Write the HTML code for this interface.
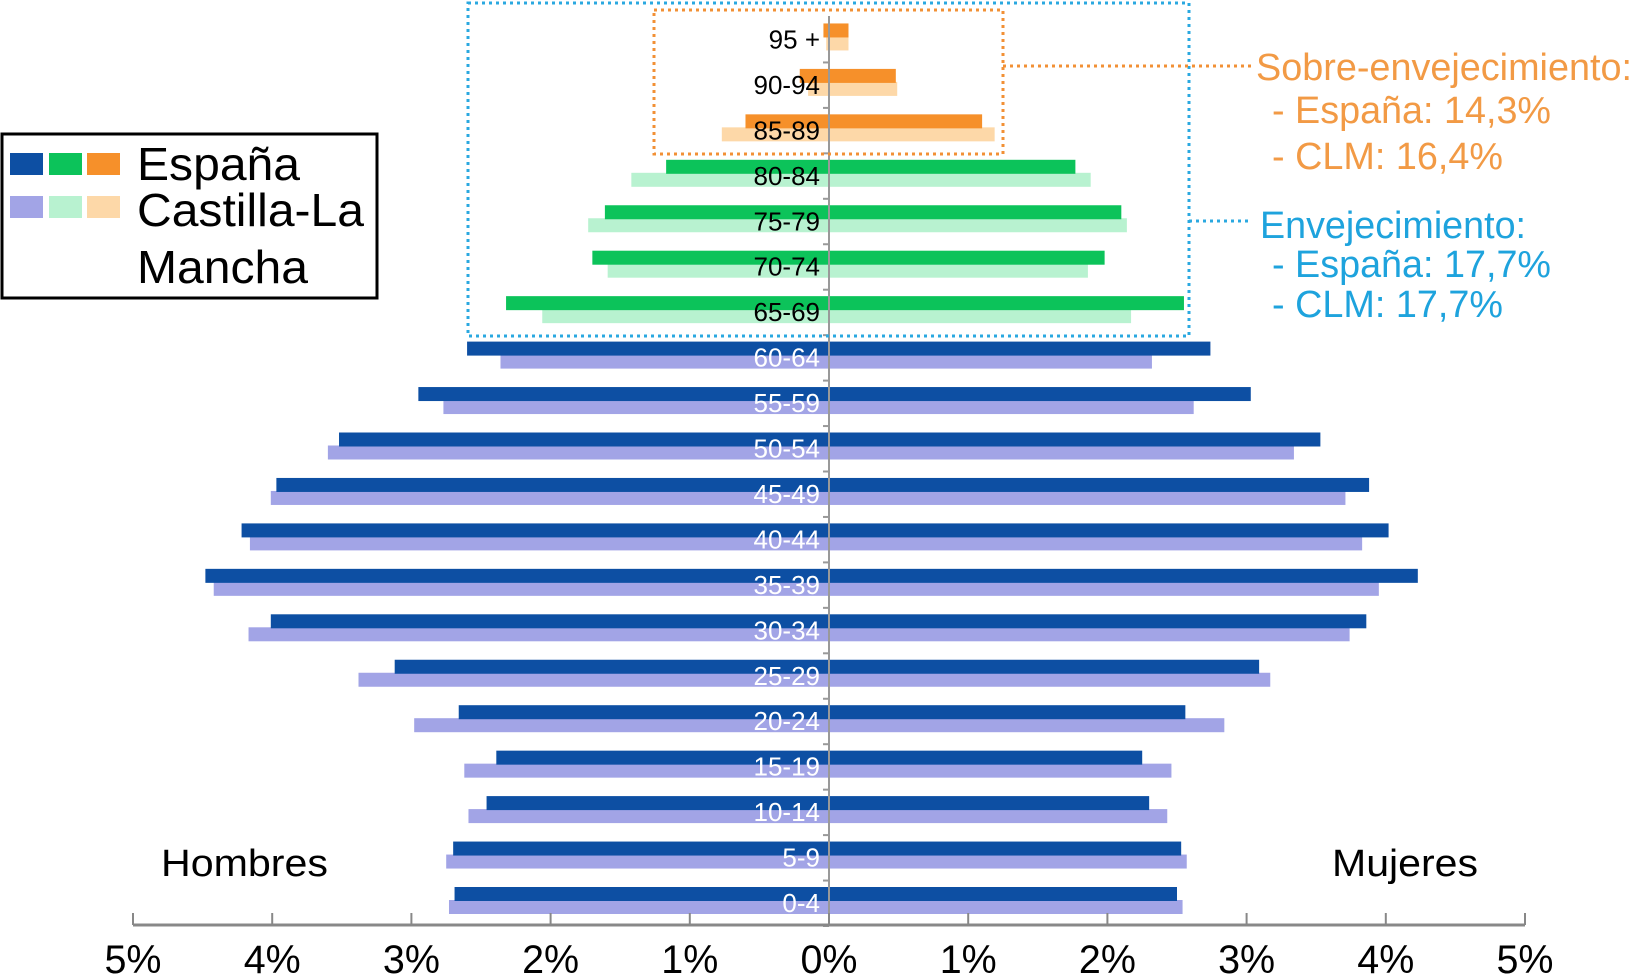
<!DOCTYPE html>
<html><head><meta charset="utf-8"><style>
html,body{margin:0;padding:0;background:#fff;width:1632px;height:980px;overflow:hidden}
svg{display:block;font-family:"Liberation Sans",sans-serif}
</style></head><body>
<svg id="chart" width="1632" height="980" viewBox="0 0 1632 980">
<g id="bars"></g>
<g id="axes"></g>
<g id="labels"></g>
<rect x="468" y="3" width="721" height="333" fill="none" stroke="#2aa8e0" stroke-width="3" stroke-dasharray="3,4"/>
<rect x="654" y="10" width="349" height="144" fill="none" stroke="#f29035" stroke-width="3" stroke-dasharray="3,4"/>
<line x1="1003" y1="66" x2="1254" y2="66" stroke="#f29035" stroke-width="3" stroke-dasharray="3,4"/>
<line x1="1189" y1="221" x2="1252" y2="221" stroke="#2aa8e0" stroke-width="3" stroke-dasharray="3,4"/>
<g fill="#f29a45" font-size="38">
<text x="1256" y="80" textLength="376" lengthAdjust="spacingAndGlyphs">Sobre-envejecimiento:</text>
<text x="1272" y="123" textLength="279" lengthAdjust="spacingAndGlyphs">- España: 14,3%</text>
<text x="1272" y="169" textLength="231" lengthAdjust="spacingAndGlyphs">- CLM: 16,4%</text>
</g>
<g fill="#1ea3dd" font-size="38">
<text x="1260" y="238" textLength="266" lengthAdjust="spacingAndGlyphs">Envejecimiento:</text>
<text x="1272" y="277" textLength="279" lengthAdjust="spacingAndGlyphs">- España: 17,7%</text>
<text x="1272" y="317" textLength="231" lengthAdjust="spacingAndGlyphs">- CLM: 17,7%</text>
</g>
<g>
<rect x="2" y="134" width="375" height="164" fill="#fff" stroke="#000" stroke-width="3"/>
<rect x="10" y="153" width="33" height="22" fill="#0d4fa3"/>
<rect x="49" y="153" width="33" height="22" fill="#0cc35a"/>
<rect x="87" y="153" width="33" height="22" fill="#f6902a"/>
<rect x="10" y="196" width="33" height="22" fill="#a2a4e6"/>
<rect x="49" y="196" width="33" height="22" fill="#b8f2d0"/>
<rect x="87" y="196" width="33" height="22" fill="#fdd8a8"/>
<text x="137" y="180" font-size="46" textLength="163" lengthAdjust="spacingAndGlyphs">España</text>
<text x="137" y="226" font-size="46" textLength="227" lengthAdjust="spacingAndGlyphs">Castilla-La</text>
<text x="137" y="283" font-size="46" textLength="171" lengthAdjust="spacingAndGlyphs">Mancha</text>
</g>
<text x="161" y="876" font-size="38" textLength="167" lengthAdjust="spacingAndGlyphs">Hombres</text>
<text x="1332" y="876" font-size="38" textLength="146" lengthAdjust="spacingAndGlyphs">Mujeres</text>
</svg>
<script>
const ages = ["0-4","5-9","10-14","15-19","20-24","25-29","30-34","35-39","40-44","45-49","50-54","55-59","60-64","65-69","70-74","75-79","80-84","85-89","90-94","95 +"];
const menEspana = [2.69,2.70,2.46,2.39,2.66,3.12,4.01,4.48,4.22,3.97,3.52,2.95,2.60,2.32,1.70,1.61,1.17,0.60,0.21,0.04];
const menCLM = [2.73,2.75,2.59,2.62,2.98,3.38,4.17,4.42,4.16,4.01,3.60,2.77,2.36,2.06,1.59,1.73,1.42,0.77,0.15,0.02];
const womenEspana = [2.50,2.53,2.30,2.25,2.56,3.09,3.86,4.23,4.02,3.88,3.53,3.03,2.74,2.55,1.98,2.10,1.77,1.10,0.48,0.14];
const womenCLM = [2.54,2.57,2.43,2.46,2.84,3.17,3.74,3.95,3.83,3.71,3.34,2.62,2.32,2.17,1.86,2.14,1.88,1.19,0.49,0.14];
const xTicks = [-5,-4,-3,-2,-1,0,1,2,3,4,5];
const xTickLabels = ["5%","4%","3%","2%","1%","0%","1%","2%","3%","4%","5%"];

const NS="http://www.w3.org/2000/svg";
const x0=829, pxPer=139.2, axisY=925;
const xs = v => x0 + v*pxPer;
const yc = i => 903 - i*45.45;
function colorsFor(i){
  if(i>=17) return ["#f6902a","#fdd8a8"];
  if(i>=13) return ["#0cc35a","#b8f2d0"];
  return ["#0d4fa3","#a2a4e6"];
}
function mk(tag,attrs,parent){const e=document.createElementNS(NS,tag);for(const k in attrs)e.setAttribute(k,attrs[k]);parent.appendChild(e);return e;}
const bars=document.getElementById('bars'), axes=document.getElementById('axes'), labels=document.getElementById('labels');
ages.forEach((a,i)=>{
  const c=yc(i), [dark,light]=colorsFor(i);
  const specs=[
    [-menCLM[i],light,c-3,'bar-men-clm-'],
    [womenCLM[i],light,c-3,'bar-women-clm-'],
    [-menEspana[i],dark,c-16,'bar-men-espana-'],
    [womenEspana[i],dark,c-16,'bar-women-espana-']
  ];
  specs.forEach(s=>{
    const xa=xs(Math.min(0,s[0])), xb=xs(Math.max(0,s[0]));
    const r=mk('rect',{x:xa,y:s[2],width:xb-xa,height:14,fill:s[1]},bars);
    
    
  });
  const t=mk('text',{x:820,y:c+9,'text-anchor':'end','font-size':26,fill:i<=12?'#fff':'#000'},labels);
  t.textContent=a;
  
  
  const tk=mk('line',{x1:823,x2:829,y1:c+23,y2:c+23,stroke:'#999','stroke-width':2},axes);
  
  
});
const vl=mk('line',{x1:x0,x2:x0,y1:16,y2:axisY,stroke:'#999','stroke-width':2},axes);


const hl=mk('line',{x1:xs(-5),x2:xs(5),y1:axisY,y2:axisY,stroke:'#888','stroke-width':3},axes);


xTicks.forEach((v,i)=>{
  const l=mk('line',{x1:xs(v),x2:xs(v),y1:axisY-12,y2:axisY,stroke:'#888','stroke-width':2},axes);
  
  
  const t=mk('text',{x:xs(v),y:973,'text-anchor':'middle','font-size':40,textLength:57,lengthAdjust:'spacingAndGlyphs'},axes);
  t.textContent=xTickLabels[i];
  
  
});
</script>
</body></html>
